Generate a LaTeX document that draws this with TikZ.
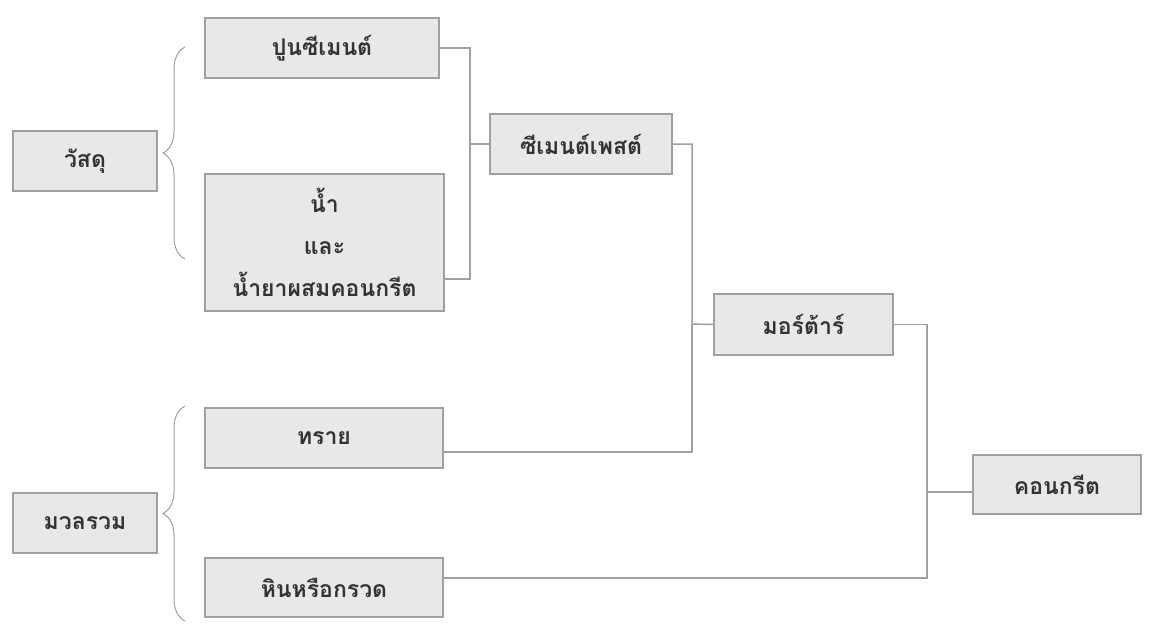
\documentclass[tikz,border=0pt]{standalone}
\usepackage{fontspec}
\newfontfamily\thaifont[Script=Thai]{Loma}
\usetikzlibrary{decorations.pathreplacing}
\definecolor{boxfill}{HTML}{E8E8E8}
\definecolor{boxline}{HTML}{A0A0A0}
\definecolor{textgray}{HTML}{333333}

\begin{document}
\begin{tikzpicture}[x=1pt, y=-1pt,
  box/.style={draw=boxline, line width=1.5pt, fill=boxfill, inner sep=0pt,
    text=textgray, font=\thaifont\bfseries\fontsize{23}{42}\selectfont, align=center,
    minimum height=60pt},
  link/.style={draw=boxline, line width=1.5pt},
  curly/.style={draw=boxline, line width=1pt, decorate,
    decoration={brace, amplitude=22pt}}]
\useasboundingbox (0,0) rectangle (1153,624);

\node[box, minimum width=144pt] (wat) at (85,161) {วัสดุ};
\node[box, minimum width=144pt] (agg) at (85,523) {มวลรวม};
\node[box, minimum width=234pt] (cement) at (322,48) {ปูนซีเมนต์};
\node[box, minimum width=239pt, minimum height=137pt] (water) at (324.5,242.5) {น้ำ\\และ\\น้ำยาผสมคอนกรีต};
\node[box, minimum width=238pt] (sand) at (324,438) {ทราย};
\node[box, minimum width=238pt, minimum height=59pt] (gravel) at (324,587.5) {หินหรือกรวด};
\node[box, minimum width=182pt] (paste) at (581,144) {ซีเมนต์เพสต์};
\node[box, minimum width=179pt, minimum height=61pt] (mortar) at (803.5,324.5) {มอร์ต้าร์};
\node[box, minimum width=168pt, minimum height=59pt] (concrete) at (1057,484.5) {คอนกรีต};

\draw[curly] (185,259) -- (185,47);
\draw[curly] (185,621) -- (185,406);

\coordinate (j1) at (470,144);
\coordinate (j2) at (692,324);
\coordinate (j3) at (927,492);
\draw[link] (cement.east) -| (j1) -- (paste.west);
\draw[link] (water.east |- 0,279) -| (j1);
\draw[link] (paste.east) -| (j2) -- (mortar.west);
\draw[link] (sand.east |- 0,452) -| (j2);
\draw[link] (mortar.east) -| (j3) -- (concrete.west |- j3);
\draw[link] (gravel.east |- 0,578) -| (j3);
\end{tikzpicture}
\end{document}
